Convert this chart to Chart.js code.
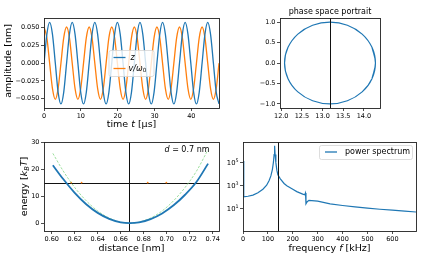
<!DOCTYPE html>
<html>
<head>
<meta charset="utf-8">
<script src="https://cdn.jsdelivr.net/npm/chart.js@4.4.1/dist/chart.umd.min.js"></script>
<style>
  body { margin: 0; background: #fff; }
  #fig { position: relative; width: 425px; height: 263px; }
  #fig canvas { position: absolute; left: 0; top: 0; }
</style>
</head>
<body>
<div id="fig">
  <canvas id="osc" width="425" height="263"></canvas>
  <canvas id="phase" width="425" height="263"></canvas>
  <canvas id="energy" width="425" height="263"></canvas>
  <canvas id="spectrum" width="425" height="263"></canvas>
</div>
<script>
// oscillation, top left (time in µs, amplitude in nm)
const oscTime = [
  0, 0.77, 1.53, 2.30, 3.07, 3.83, 4.60, 5.36,
  6.13, 6.90, 7.66, 8.43, 9.20, 9.96, 10.73, 11.49,
  12.26, 13.03, 13.79, 14.56, 15.33, 16.09, 16.86, 17.62,
  18.39, 19.16, 19.92, 20.69, 21.46, 22.22, 22.99, 23.75,
  24.52, 25.29, 26.05, 26.82, 27.59, 28.35, 29.12, 29.88,
  30.65, 31.42, 32.18, 32.95, 33.72, 34.48, 35.25, 36.01,
  36.78, 37.55, 38.31, 39.08, 39.85, 40.61, 41.38, 42.14,
  42.91, 43.68, 44.44, 45.21, 45.98, 46.74, 47.51
];
const oscZ = [
  0, 0.0407, 0.0575, 0.0407, 0, -0.0407, -0.0575, -0.0407,
  0, 0.0407, 0.0575, 0.0407, 0, -0.0407, -0.0575, -0.0407,
  0, 0.0407, 0.0575, 0.0407, 0, -0.0407, -0.0575, -0.0407,
  0, 0.0407, 0.0575, 0.0407, 0, -0.0407, -0.0575, -0.0407,
  0, 0.0407, 0.0575, 0.0407, 0, -0.0407, -0.0575, -0.0407,
  0, 0.0407, 0.0575, 0.0407, 0, -0.0407, -0.0575, -0.0407,
  0, 0.0407, 0.0575, 0.0407, 0, -0.0407, -0.0575, -0.0407,
  0, 0.0407, 0.0575, 0.0407, 0, -0.0407, -0.0575
];
const oscV = [
  0.051, 0.036, 0, -0.036, -0.051, -0.036, 0, 0.036,
  0.051, 0.036, 0, -0.036, -0.051, -0.036, 0, 0.036,
  0.051, 0.036, 0, -0.036, -0.051, -0.036, 0, 0.036,
  0.051, 0.036, 0, -0.036, -0.051, -0.036, 0, 0.036,
  0.051, 0.036, 0, -0.036, -0.051, -0.036, 0, 0.036,
  0.051, 0.036, 0, -0.036, -0.051, -0.036, 0, 0.036,
  0.051, 0.036, 0, -0.036, -0.051, -0.036, 0, 0.036,
  0.051, 0.036, 0, -0.036, -0.051, -0.036, 0
];
const oscXTicks = [0, 10, 20, 30, 40];
const oscYTicks = [-0.05, -0.025, 0, 0.025, 0.05];

// phase space portrait, top right
const phaseX = [14.196, 14.28, 14.196, 13.958, 13.601, 13.18, 12.759, 12.402, 12.164, 12.08,
                12.164, 12.402, 12.759, 13.18, 13.601, 13.958, 14.196, 14.28, 14.196];
const phaseY = [-0.383, 0, 0.383, 0.707, 0.924, 1.0, 0.924, 0.707, 0.383, 0,
                -0.383, -0.707, -0.924, -1.0, -0.924, -0.707, -0.383, 0, 0.383];
const phaseMarkX = 13.17;
const phaseXTicks = [12, 12.5, 13, 13.5, 14];
const phaseYTicks = [-1, -0.5, 0, 0.5, 1];

// energy profile, bottom left
const distance = [0.601, 0.610, 0.620, 0.630, 0.640, 0.650, 0.660, 0.668,
                  0.676, 0.686, 0.696, 0.706, 0.716, 0.726, 0.736];
const energyModel = [21.4, 16.3, 11.2, 7.0, 3.8, 1.6, 0.3, 0,
                     0.3, 1.5, 3.6, 6.6, 10.5, 15.3, 22.0];
const energyHarmonic = [25.8, 19.3, 13.2, 8.3, 4.5, 1.9, 0.4, 0,
                        0.4, 1.9, 4.5, 8.3, 13.2, 19.3, 27.2];
const crossDist = [0.617, 0.626, 0.6835, 0.6997];
const energyLevel = 15;
const eqDistance = 0.6675;
const distTicks = [0.60, 0.62, 0.64, 0.66, 0.68, 0.70, 0.72, 0.74];
const energyTicks = [0, 10, 20, 30];

// power spectrum, bottom right
const freq = [0, 3, 20, 40, 60, 80, 95, 105, 112, 118, 122, 125, 127, 129, 132, 136, 140,
              150, 165, 176, 200, 216, 240, 248, 251, 253, 258, 265, 300, 350, 400, 450,
              500, 550, 600, 650, 695];
const power = [1.4e5, 112, 126, 158, 251, 501, 1122, 2818, 7079, 25119, 1.0e5, 5.0e5, 2.8e6,
               5.0e5, 1.0e5, 22387, 8913, 3981, 1585, 1000, 501, 316, 190, 166, 240, 28, 42,
               56, 48, 28, 20, 15, 11.7, 9.5, 7.9, 6.6, 5.5];
const markFreq = 140;
const freqTicks = [0, 100, 200, 300, 400, 500, 600];
const powerTicks = [10, 1e3, 1e5];

const blue = '#1f77b4', orange = '#ff7f0e';
const W = 425, H = 263, XH = 22;
const minus = s => s.replace('-', '\u2212');

// text made of pieces: [text, italic, shift] with shift 1 = subscript, 2 = superscript
function rich(ctx, parts, x, y, size, align, rot) {
  ctx.save();
  ctx.translate(x, y);
  if (rot) ctx.rotate(rot);
  const fonts = parts.map(p => (p[1] ? 'italic ' : '') + (p[2] ? size * 0.7 : size) + 'px "DejaVu Sans"');
  const widths = parts.map((p, i) => { ctx.font = fonts[i]; return ctx.measureText(p[0]).width; });
  const total = widths.reduce((a, b) => a + b, 0);
  let cx = align === 'left' ? 0 : align === 'right' ? -total : -total / 2;
  ctx.fillStyle = '#000';
  ctx.textAlign = 'left';
  ctx.textBaseline = 'middle';
  parts.forEach((p, i) => {
    ctx.font = fonts[i];
    const dy = p[2] === 1 ? size * 0.28 : p[2] === 2 ? -size * 0.38 : 0;
    ctx.fillText(p[0], cx, dy);
    cx += widths[i];
  });
  ctx.restore();
}

function legendBox(ctx, x, y, w, h, rows) {
  ctx.save();
  ctx.fillStyle = 'rgba(255,255,255,0.8)';
  ctx.strokeStyle = '#d4d4d4';
  ctx.lineWidth = 0.8;
  ctx.beginPath();
  if (ctx.roundRect) ctx.roundRect(x + 0.5, y + 0.5, w, h, 2); else ctx.rect(x + 0.5, y + 0.5, w, h);
  ctx.fill();
  ctx.stroke();
  rows.forEach(r => {
    ctx.strokeStyle = r.color;
    ctx.lineWidth = 1.3;
    ctx.beginPath();
    ctx.moveTo(x + r.l0, y + r.dy);
    ctx.lineTo(x + r.l1, y + r.dy);
    ctx.stroke();
    rich(ctx, r.parts, x + r.tx, y + r.dy, 8, 'left');
  });
  ctx.restore();
}

function vline(chart, v) {
  const a = chart.chartArea, ctx = chart.ctx;
  const px = Math.round(chart.scales.x.getPixelForValue(v)) + 0.5;
  ctx.save();
  ctx.strokeStyle = '#111';
  ctx.lineWidth = 1;
  ctx.beginPath(); ctx.moveTo(px, a.top); ctx.lineTo(px, a.bottom); ctx.stroke();
  ctx.restore();
}

function hline(chart, v) {
  const a = chart.chartArea, ctx = chart.ctx;
  const py = Math.round(chart.scales.y.getPixelForValue(v)) + 0.5;
  ctx.save();
  ctx.strokeStyle = '#111';
  ctx.lineWidth = 1;
  ctx.beginPath(); ctx.moveTo(a.left, py); ctx.lineTo(a.right, py); ctx.stroke();
  ctx.restore();
}

const framePlugin = {
  id: 'frame',
  afterDraw(chart) {
    const a = chart.chartArea, ctx = chart.ctx;
    ctx.save();
    ctx.strokeStyle = '#222';
    ctx.lineWidth = 0.9;
    ctx.strokeRect(a.left + 0.5, a.top + 0.5, a.right - a.left, a.bottom - a.top);
    ctx.restore();
  }
};

function axis(o, fit) {
  return {
    type: o.type || 'linear',
    min: o.min, max: o.max,
    afterFit: fit,
    afterBuildTicks: s => { s.ticks = o.ticks.map(v => ({ value: v })); },
    border: { display: false },
    grid: { drawOnChartArea: false, drawTicks: true, tickLength: 3, color: '#222', lineWidth: 0.8 },
    ticks: {
      autoSkip: false, maxRotation: 0, minRotation: 0, padding: 1.5, color: '#000',
      font: { family: 'DejaVu Sans', size: 6.5 },
      callback: o.fmt
    }
  };
}

function options(box, xo, yo) {
  const [L, T, R, B] = box;
  return {
    responsive: false,
    animation: false,
    events: [],
    layout: { padding: { left: 0, top: T, right: W - R, bottom: H - B - XH } },
    plugins: { legend: { display: false }, tooltip: { enabled: false } },
    elements: { point: { radius: 0 } },
    scales: {
      x: axis(xo, s => { s.height = XH; }),
      y: axis(yo, s => { s.width = L; })
    }
  };
}

const pts = (xs, ys) => xs.map((x, i) => ({ x: x, y: ys[i] }));

// top left: z and v/omega0 against time
new Chart(document.getElementById('osc'), {
  type: 'line',
  data: {
    datasets: [
      { data: pts(oscTime, oscZ), borderColor: blue, borderWidth: 1.3, cubicInterpolationMode: 'monotone' },
      { data: pts(oscTime, oscV), borderColor: orange, borderWidth: 1.3, cubicInterpolationMode: 'monotone' }
    ]
  },
  options: options([44, 18, 219, 108],
    { min: 0, max: 47.5, ticks: oscXTicks, fmt: v => String(v) },
    { min: -0.0632, max: 0.0637, ticks: oscYTicks, fmt: v => minus(v.toFixed(3)) }),
  plugins: [framePlugin, {
    id: 'oscText',
    afterDraw(chart) {
      const a = chart.chartArea, ctx = chart.ctx;
      const cx = (a.left + a.right) / 2, cy = (a.top + a.bottom) / 2;
      rich(ctx, [['time '], ['t', 1], [' [\u00b5s]']], cx, a.bottom + 17, 9.5, 'center');
      rich(ctx, [['amplitude [nm]']], 8.5, cy - 2, 9.5, 'center', -Math.PI / 2);
      legendBox(ctx, cx - 23, cy - 13, 45, 26, [
        { color: blue, dy: 7.5, l0: 5, l1: 17, tx: 22, parts: [['z', 1]] },
        { color: orange, dy: 18.5, l0: 5, l1: 17, tx: 20, parts: [['v/\u03c9', 1], ['0', 0, 1]] }
      ]);
    }
  }]
});

// top right: phase space portrait
new Chart(document.getElementById('phase'), {
  type: 'line',
  data: {
    datasets: [
      { data: pts(phaseX, phaseY), borderColor: blue, borderWidth: 1.2, tension: 0.4 }
    ]
  },
  options: options([280, 18, 380, 108],
    { min: 11.97, max: 14.39, ticks: phaseXTicks, fmt: v => v.toFixed(1) },
    { min: -1.1, max: 1.1, ticks: phaseYTicks, fmt: v => minus(v.toFixed(1)) }),
  plugins: [framePlugin, {
    id: 'phaseText',
    afterDatasetsDraw(chart) { vline(chart, phaseMarkX); },
    afterDraw(chart) {
      const a = chart.chartArea;
      rich(chart.ctx, [['phase space portrait']], (a.left + a.right) / 2, a.top - 6.5, 8, 'center');
    }
  }]
});

// bottom left: energy against distance
new Chart(document.getElementById('energy'), {
  type: 'line',
  data: {
    datasets: [
      { data: pts(distance, energyModel), borderColor: blue, borderWidth: 1.8, cubicInterpolationMode: 'monotone' },
      { data: pts(distance, energyHarmonic), borderColor: '#86d886', borderWidth: 0.8, borderDash: [2.5, 1.5], cubicInterpolationMode: 'monotone' },
      { data: crossDist.map(x => ({ x: x, y: energyLevel })), showLine: false, pointRadius: 0.9, pointBackgroundColor: orange, pointBorderWidth: 0 }
    ]
  },
  options: options([44, 142, 219, 231],
    { min: 0.5933, max: 0.7455, ticks: distTicks, fmt: v => v.toFixed(2) },
    { min: -2.9, max: 30, ticks: energyTicks, fmt: v => String(v) }),
  plugins: [framePlugin, {
    id: 'energyText',
    beforeDatasetsDraw(chart) { vline(chart, eqDistance); hline(chart, energyLevel); },
    afterDraw(chart) {
      const a = chart.chartArea, ctx = chart.ctx;
      rich(ctx, [['distance [nm]']], (a.left + a.right) / 2, a.bottom + 18, 9.5, 'center');
      rich(ctx, [['energy ['], ['k', 1], ['B', 1, 1], ['T', 1], [']']], 24.5, (a.top + a.bottom) / 2, 9.5, 'center', -Math.PI / 2);
      rich(ctx, [['d', 1], [' = 0.7 nm']], a.right - 9.5, a.top + 7.5, 8, 'right');
    }
  }]
});

// bottom right: power spectrum (log scale); decade labels drawn with a raised exponent
new Chart(document.getElementById('spectrum'), {
  type: 'line',
  data: {
    datasets: [
      { data: pts(freq, power), borderColor: blue, borderWidth: 1.2, tension: 0 }
    ]
  },
  options: options([243, 142, 416, 231],
    { min: 0, max: 695, ticks: freqTicks, fmt: v => String(v) },
    { type: 'logarithmic', min: 0.126, max: 6.0e6, ticks: powerTicks, fmt: () => '' }),
  plugins: [framePlugin, {
    id: 'spectrumText',
    afterDatasetsDraw(chart) { vline(chart, markFreq); },
    afterDraw(chart) {
      const a = chart.chartArea, ctx = chart.ctx, y = chart.scales.y;
      powerTicks.forEach(v => {
        const e = String(Math.round(Math.log10(v)));
        rich(ctx, [['10'], [e, 0, 2]], a.left - 4.5, y.getPixelForValue(v) + 0.5, 6.8, 'right');
      });
      rich(ctx, [['frequency '], ['f', 1], [' [kHz]']], (a.left + a.right) / 2, a.bottom + 18, 9.5, 'center');
      legendBox(ctx, a.right - 97, a.top + 3, 93, 14, [
        { color: blue, dy: 7, l0: 6, l1: 18, tx: 26, parts: [['power spectrum']] }
      ]);
    }
  }]
});
</script>
</body>
</html>
